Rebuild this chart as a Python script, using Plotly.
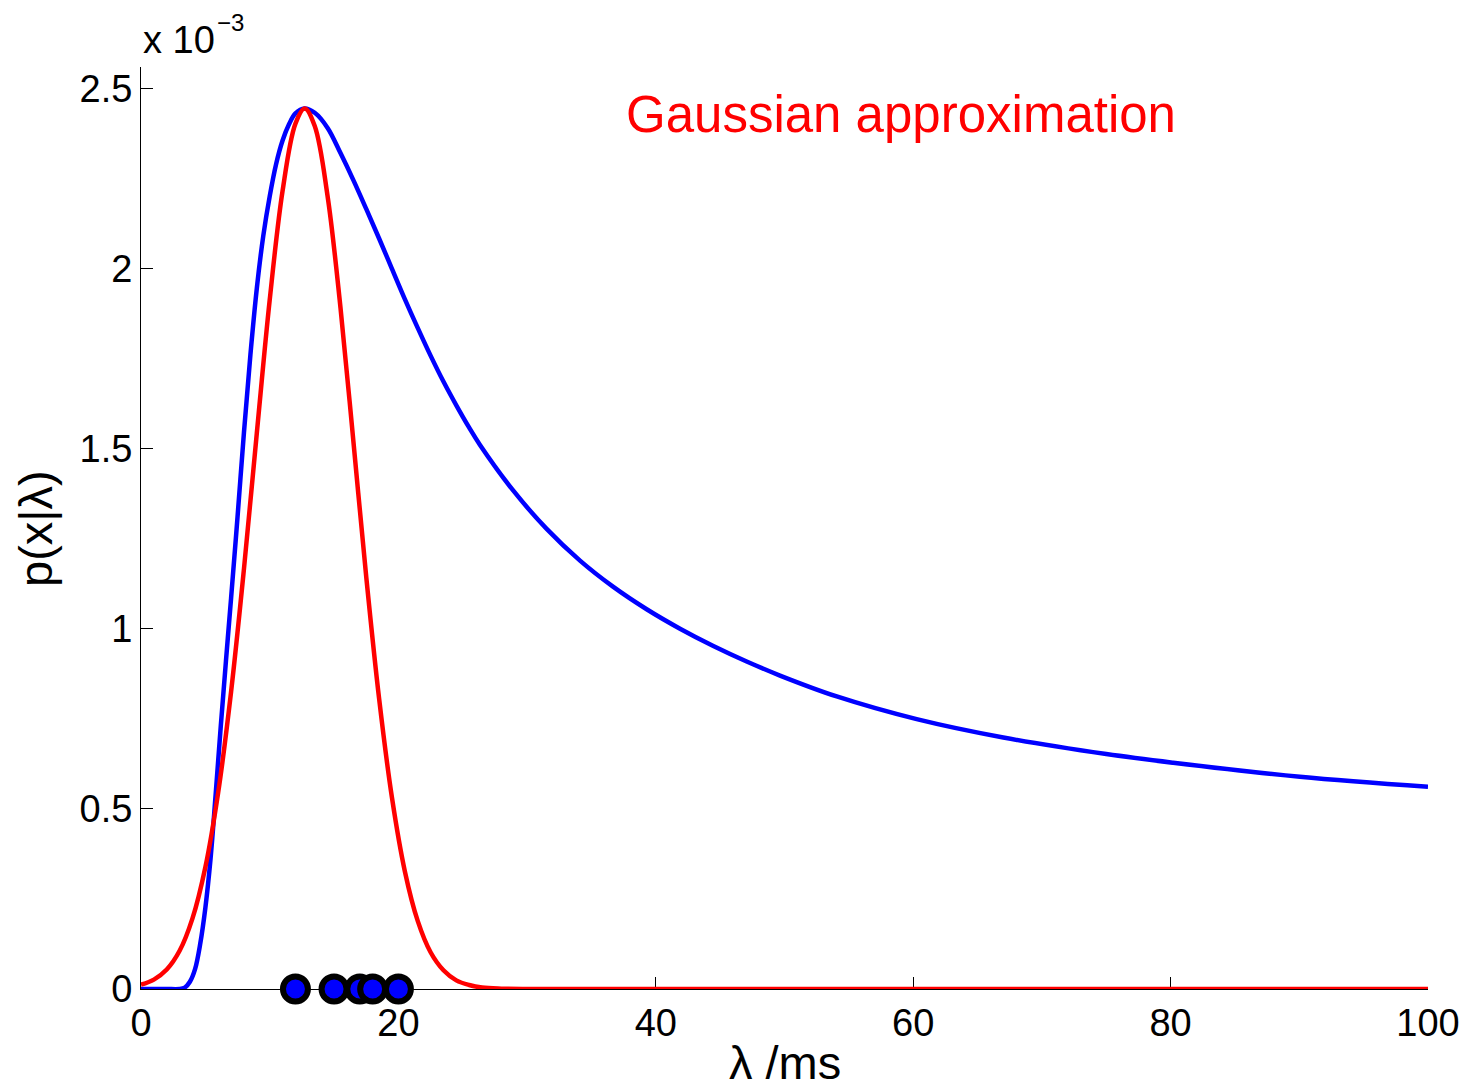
import plotly.graph_objects as go

# Blue curve: likelihood p(x|lambda), values in units of 1e-3
lam_blue = [0, 1, 2, 3, 3.4, 3.8, 4.2, 4.6, 5.0, 5.4, 5.8, 6.2, 6.6, 7.0, 7.5,
            8.0, 8.5, 9.0, 9.5, 10.0, 10.5, 11.0, 11.5, 12.0, 12.7, 13.5, 14.5,
            15.5, 16.5, 17.5, 18.5, 19.5, 20.5, 21.5, 22.5, 23.5, 24.5, 25.5,
            26.34, 28.93, 31.52, 34.11, 36.7, 39.29, 41.88, 44.47, 47.06, 49.65,
            54.06, 60.27, 67.0, 75.0, 80.2, 90.05, 100]
p_blue = [0, 0, 0, 0, 0.004, 0.02, 0.055, 0.125, 0.225, 0.36, 0.54, 0.73, 0.91, 1.085, 1.31,
          1.545, 1.76, 1.945, 2.09, 2.20, 2.29, 2.355, 2.40, 2.43, 2.444, 2.432, 2.39,
          2.32, 2.245, 2.165, 2.083, 1.999, 1.915, 1.835, 1.758, 1.686, 1.62, 1.558,
          1.51, 1.383, 1.277, 1.189, 1.116, 1.054, 1.0, 0.952, 0.909, 0.870,
          0.812, 0.749, 0.698, 0.652, 0.628, 0.589, 0.561]

# Red curve: Gaussian approximation, values in units of 1e-3
lam_red = [0, 1, 2, 3, 4, 5, 6, 7, 8, 9, 10, 11, 12, 12.72, 13.5, 14.5, 15.5, 16.5,
           17.5, 18.5, 19.5, 20.5, 21.5, 22.5, 23.5, 24.5, 25.5, 26.5, 28, 30,
           40, 50, 60, 70, 80, 90, 100]
p_red = [0.012, 0.026, 0.054, 0.106, 0.196, 0.338, 0.546, 0.825, 1.166, 1.543, 1.912, 2.215,
         2.402, 2.444, 2.395, 2.2, 1.891, 1.521, 1.144, 0.806, 0.531, 0.327, 0.189, 0.102,
         0.052, 0.024, 0.011, 0.004, 0.001, 0.0, 0.0, 0.0, 0.0, 0.0, 0.0, 0.0, 0.0]

# Observed data points
data_x = [12, 15, 17, 18, 20]
data_y = [0, 0, 0, 0, 0]

x_ticks = [0, 20, 40, 60, 80, 100]
y_ticks = [0, 0.5, 1, 1.5, 2, 2.5]
y_ticktext = ["0", "0.5", "1", "1.5", "2", "2.5"]

FONT = "Liberation Sans, Arial, Helvetica, sans-serif"

fig = go.Figure()
fig.add_trace(go.Scatter(x=lam_blue, y=p_blue, mode="lines",
                         line=dict(color="#0000ff", width=4.5, shape="spline", smoothing=1.0),
                         showlegend=False, cliponaxis=False))
fig.add_trace(go.Scatter(x=lam_red, y=p_red, mode="lines",
                         line=dict(color="#ff0000", width=4.5, shape="spline", smoothing=1.0),
                         showlegend=False, cliponaxis=False))
fig.add_trace(go.Scatter(x=data_x, y=data_y, mode="markers",
                         marker=dict(size=25, color="#0000ff", line=dict(color="black", width=6)),
                         showlegend=False, cliponaxis=False))

axis_common = dict(
    showgrid=False, zeroline=False, showline=True, linecolor="black", linewidth=1,
    ticks="inside", ticklen=12, tickwidth=1, tickcolor="black", mirror=False,
    tickfont=dict(family=FONT, size=38, color="black"), layer="below traces",
    automargin=False, ticklabeloverflow="allow",
)
fig.update_xaxes(range=[0, 100], tickvals=x_ticks, ticktext=[str(v) for v in x_ticks], **axis_common)
fig.update_yaxes(range=[0, 2.559], tickvals=y_ticks, ticktext=y_ticktext, **axis_common)

fig.update_layout(
    width=1467, height=1089, autosize=False,
    margin=dict(l=141, r=39, t=67, b=100, pad=0, autoexpand=False),
    plot_bgcolor="white", paper_bgcolor="white",
    font=dict(family=FONT, color="black"),
    annotations=[
        dict(text="Gaussian approximation", xref="paper", yref="paper", x=0.5905, y=0.948,
             xanchor="center", yanchor="middle", showarrow=False,
             font=dict(family=FONT, size=51, color="#ff0000")),
        dict(text="λ /ms", xref="paper", yref="paper", x=0.5, y=-0.0802,
             xanchor="center", yanchor="middle", showarrow=False,
             font=dict(family=FONT, size=47, color="black")),
        dict(text="p(x|λ)", xref="paper", yref="paper", x=-0.0824, y=0.5,
             xanchor="center", yanchor="middle", showarrow=False, textangle=-90,
             font=dict(family=FONT, size=47, color="black")),
        dict(text="x 10", xref="paper", yref="paper", x=0.0, y=1.0296,
             xanchor="left", yanchor="middle", showarrow=False,
             font=dict(family=FONT, size=38, color="black")),
        dict(text="−3", xref="paper", yref="paper", x=0.0575, y=1.0485,
             xanchor="left", yanchor="middle", showarrow=False,
             font=dict(family=FONT, size=24, color="black")),
    ],
)

fig.write_html("out.html")
